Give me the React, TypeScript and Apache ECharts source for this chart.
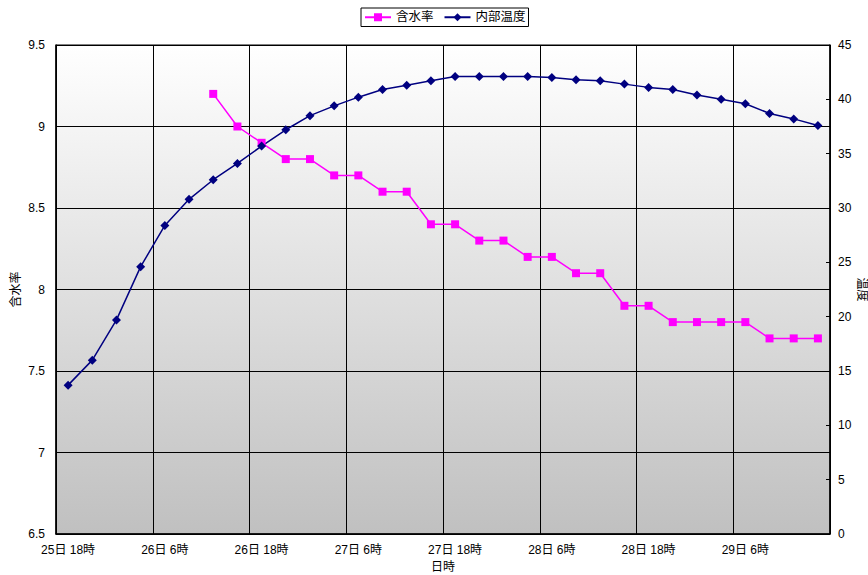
import React, { useEffect, useRef } from "react";
import * as echarts from "echarts";

// Time stamps every 3 hours, starting 25日 18時
const timeLabels: string[] = [
  "25日 18時", "25日 21時", "26日 0時", "26日 3時",
  "26日 6時", "26日 9時", "26日 12時", "26日 15時",
  "26日 18時", "26日 21時", "27日 0時", "27日 3時",
  "27日 6時", "27日 9時", "27日 12時", "27日 15時",
  "27日 18時", "27日 21時", "28日 0時", "28日 3時",
  "28日 6時", "28日 9時", "28日 12時", "28日 15時",
  "28日 18時", "28日 21時", "29日 0時", "29日 3時",
  "29日 6時", "29日 9時", "29日 12時", "29日 15時",
];

// 含水率 (left axis); measurement starts at 26日 12時
const moisture: (number | null)[] = [
  null, null, null, null, null, null,
  9.2, 9.0, 8.9, 8.8, 8.8, 8.7, 8.7, 8.6, 8.6, 8.4,
  8.4, 8.3, 8.3, 8.2, 8.2, 8.1, 8.1, 7.9, 7.9, 7.8,
  7.8, 7.8, 7.8, 7.7, 7.7, 7.7,
];

// 内部温度 (right axis)
const innerTemp: number[] = [
  13.7, 16.0, 19.7, 24.6, 28.4, 30.8, 32.6, 34.1,
  35.7, 37.2, 38.5, 39.4, 40.2, 40.9, 41.3, 41.7,
  42.1, 42.1, 42.1, 42.1, 42.0, 41.8, 41.7, 41.4,
  41.1, 40.9, 40.4, 40.0, 39.6, 38.7, 38.2, 37.6,
];

const FONT = "'Liberation Sans', Arial, 'Noto Sans CJK JP', sans-serif";

export default function App() {
  const ref = useRef<HTMLDivElement>(null);

  useEffect(() => {
    if (!ref.current) return;
    const chart = echarts.init(ref.current, undefined, { renderer: "svg" });
    chart.setOption({
      animation: false,
      backgroundColor: "#ffffff",
      textStyle: { fontFamily: FONT, color: "#000" },
      legend: {
        top: 8,
        left: 361,
        data: ["含水率", "内部温度"],
        borderColor: "#000",
        borderWidth: 1,
        padding: [3, 3, 3, 3],
        itemWidth: 26,
        itemHeight: 10,
        itemGap: 10,
        textStyle: { fontFamily: FONT, fontSize: 12.5, color: "#000" },
      },
      grid: {
        left: 56,
        right: 38,
        top: 45,
        bottom: 41,
        outerBoundsMode: "none",
        containLabel: false,
        show: true,
        borderColor: "#000",
        borderWidth: 1,
        backgroundColor: new echarts.graphic.LinearGradient(0, 0, 0, 1, [
          { offset: 0, color: "#ffffff" },
          { offset: 1, color: "#c0c0c0" },
        ]),
      },
      xAxis: {
        type: "category",
        data: timeLabels,
        boundaryGap: true,
        name: "日時",
        nameLocation: "middle",
        nameGap: 27,
        nameMoveOverlap: false,
        nameTextStyle: { fontFamily: FONT, fontSize: 12, color: "#000" },
        axisLine: { lineStyle: { color: "#000", width: 1.5 } },
        axisTick: { show: true, inside: true, interval: 3, length: 4, lineStyle: { color: "#000" } },
        axisLabel: { interval: 3, fontSize: 12, color: "#000", fontFamily: FONT, margin: 10 },
        splitLine: { show: true, interval: 3, lineStyle: { color: "#000", width: 1 } },
      },
      yAxis: [
        {
          type: "value",
          min: 6.5,
          max: 9.5,
          interval: 0.5,
          name: "含水率",
          nameLocation: "middle",
          nameGap: 34,
          nameRotate: 90,
          nameMoveOverlap: false,
          nameTextStyle: { fontFamily: FONT, fontSize: 12, color: "#000" },
          axisLine: { show: true, lineStyle: { color: "#000", width: 1.5 } },
          axisTick: { show: true, inside: true, length: 4, lineStyle: { color: "#000" } },
          axisLabel: { fontSize: 12, color: "#000", fontFamily: FONT, margin: 11 },
          splitLine: { show: true, lineStyle: { color: "#000", width: 1 } },
        },
        {
          type: "value",
          min: 0,
          max: 45,
          interval: 5,
          name: "温度",
          nameLocation: "middle",
          nameGap: 26,
          nameRotate: -90,
          nameMoveOverlap: false,
          nameTextStyle: { fontFamily: FONT, fontSize: 12, color: "#000" },
          axisLine: { show: true, lineStyle: { color: "#000", width: 1.5 } },
          axisTick: { show: true, inside: true, length: 4, lineStyle: { color: "#000" } },
          axisLabel: { fontSize: 12, color: "#000", fontFamily: FONT, margin: 8 },
          splitLine: { show: false },
        },
      ],
      series: [
        {
          name: "含水率",
          type: "line",
          yAxisIndex: 0,
          data: moisture,
          symbol: "rect",
          symbolSize: 8,
          connectNulls: false,
          lineStyle: { color: "#ff00ff", width: 1.5 },
          itemStyle: { color: "#ff00ff" },
        },
        {
          name: "内部温度",
          type: "line",
          yAxisIndex: 1,
          data: innerTemp,
          symbol: "diamond",
          symbolSize: 9,
          lineStyle: { color: "#000080", width: 1.5 },
          itemStyle: { color: "#000080" },
        },
      ],
    });
    return () => chart.dispose();
  }, []);

  return (
    <div
      ref={ref}
      style={{ position: "fixed", left: 0, top: 0, width: 868, height: 575 }}
    />
  );
}
